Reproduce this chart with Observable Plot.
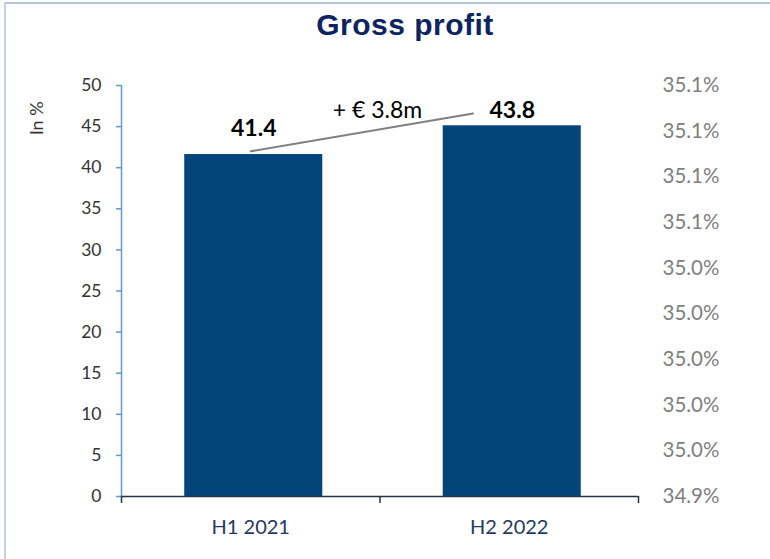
<!DOCTYPE html>
<html>
<head>
<meta charset="utf-8">
<script src="https://cdn.jsdelivr.net/npm/d3@7"></script>
<script src="https://cdn.jsdelivr.net/npm/@observablehq/plot@0.6"></script>
<style>
  html, body { margin: 0; padding: 0; background: #fff; }
  #page { position: relative; width: 770px; height: 559px; overflow: hidden; font-family: Lato, "Open Sans", sans-serif; }
  #frameTop { position: absolute; left: 4px; top: 2px; width: 780px; height: 2px; background: #b3c6dc; }
  #frameLeft { position: absolute; left: 4px; top: 2px; width: 2px; height: 600px; background: #c2d2e4; }
  #title { height: 50px; box-sizing: border-box; padding-top: 8px; margin: 0; text-align: center;
           font-family: "Liberation Sans", Arial, sans-serif; font-weight: bold; font-size: 30px;
           color: #0c2461; padding-left: 40px; letter-spacing: 0.5px; }
  #chart svg { display: block; }
</style>
</head>
<body>
<div id="page">
  <div id="frameTop"></div>
  <div id="frameLeft"></div>
  <div id="title">Gross profit</div>
  <div id="chart"></div>
</div>
<script>
// ---- data ----
const categories = ["H1 2021", "H2 2022"];
const barValues = [41.6, 45.1];          // bar heights as drawn
const valueLabels = ["41.4", "43.8"];   // printed labels
const labelY = [43.9, 46.1];            // where the labels sit on the left scale
const leftTicks = [0, 5, 10, 15, 20, 25, 30, 35, 40, 45, 50];
const rightTickLabels = ["34.9%", "35.0%", "35.0%", "35.0%", "35.0%", "35.0%", "35.1%", "35.1%", "35.1%", "35.1%"];
const rightTickPos = [0, 50/9, 100/9, 150/9, 200/9, 250/9, 300/9, 350/9, 400/9, 50];
const categoryBounds = [-0.5, 0.5, 1.5];
const connectorX = [0, 0.86];
const connectorY = [42.0, 46.6];
const deltaLabel = "+ € 3.8m";
const deltaPos = {x: 0.49, y: 46.1};
const yLabel = "In %";

const bars = categories.map((c, i) => ({cat: c, idx: i, value: barValues[i], label: valueLabels[i], ly: labelY[i]}));
const connector = connectorX.map((x, i) => ({x, y: connectorY[i]}));
const rightTicks = rightTickPos.map((p, i) => ({p, label: rightTickLabels[i]}));

const halfBar = 0.267;
const blue = "#5b9bd5";

const chart = Plot.plot({
  width: 770,
  height: 509,
  marginLeft: 121,
  marginRight: 132,
  marginTop: 35,
  marginBottom: 63,
  style: {fontFamily: "Lato, 'Open Sans', sans-serif", background: "transparent"},
  x: {type: "linear", domain: [-0.5, 1.5], axis: null},
  y: {type: "linear", domain: [0, 50], axis: null},
  marks: [
    Plot.rectY(bars, {x1: d => d.idx - halfBar, x2: d => d.idx + halfBar, y: "value", fill: "#03457b", dx: 3}),
    // left axis
    Plot.ruleX([-0.5], {y1: 0, y2: 50, stroke: blue, strokeWidth: 1.5}),
    Plot.axisY(leftTicks, {anchor: "left", tickSize: 5, tickPadding: 15, stroke: blue, fill: "#333333", fontSize: 17.5, strokeWidth: 1.5}),
    // right axis labels
    Plot.text(rightTicks, {y: "p", text: "label", frameAnchor: "right", textAnchor: "start", dx: 24, fill: "#808080", fontSize: 20.5}),
    // baseline and x ticks
    Plot.ruleY([0], {stroke: "#2b3340", strokeWidth: 1.5}),
    Plot.axisX(categoryBounds, {anchor: "bottom", tickSize: 7, tickFormat: () => "", stroke: "#2b3340", strokeWidth: 1.5}),
    Plot.text(categories, {x: (d, i) => i, text: d => d, frameAnchor: "bottom", lineAnchor: "bottom", dy: 37, fill: "#1f3864", fontSize: 20}),
    // value labels
    Plot.text(bars, {x: "idx", y: "ly", text: "label", lineAnchor: "bottom", fontWeight: "bold", fontSize: 23, fill: "#000", dx: 3}),
    // connector
    Plot.line(connector, {x: "x", y: "y", stroke: "#808080", strokeWidth: 2}),
    Plot.text([deltaLabel], {x: deltaPos.x, y: deltaPos.y, text: d => d, lineAnchor: "bottom", fontSize: 23, fill: "#000"}),
    // y label
    Plot.text([yLabel], {x: -0.5, y: 46, text: d => d, dx: -84, rotate: -90, fontSize: 18, fill: "#333333"})
  ]
});
document.getElementById("chart").appendChild(chart);
</script>
</body>
</html>
